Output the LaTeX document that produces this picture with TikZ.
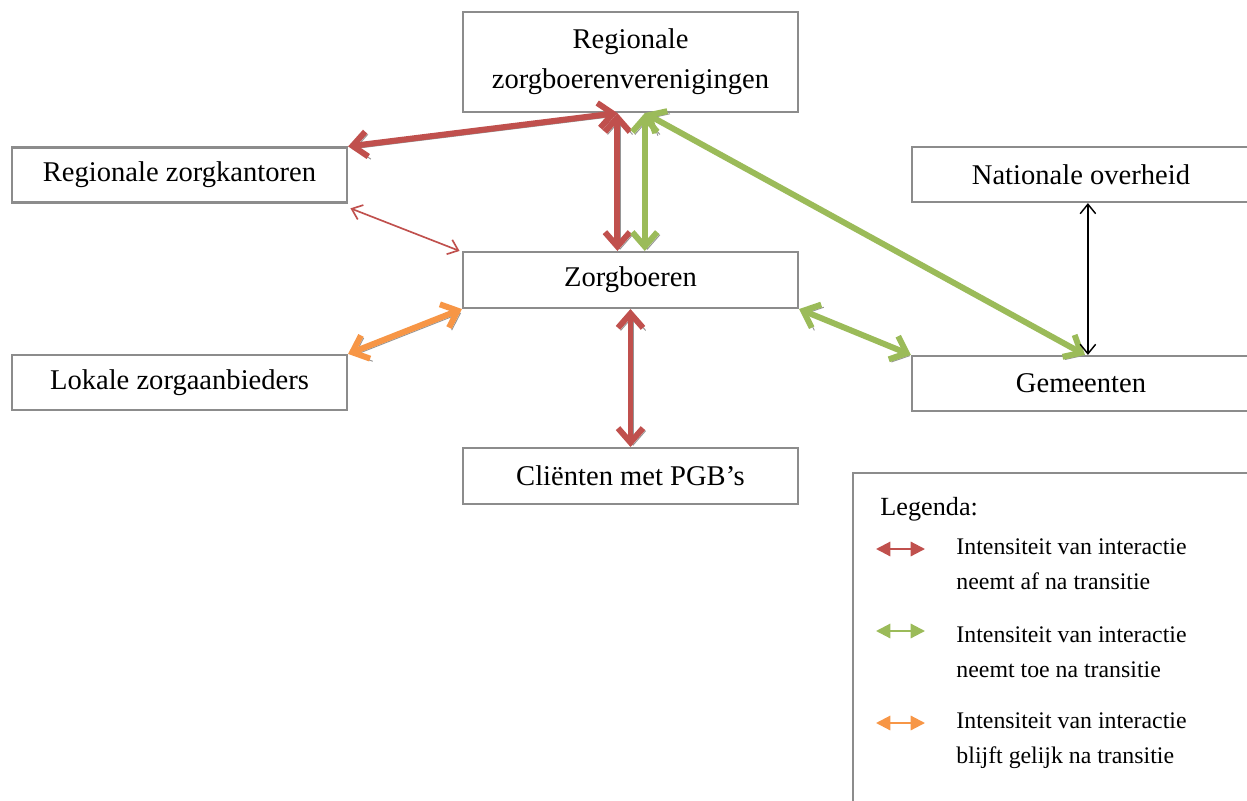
\documentclass[tikz,border=0pt]{standalone}
\usepackage{fontspec}
\setmainfont{Liberation Serif}
\usepackage{tikz}
\usetikzlibrary{arrows.meta}

\definecolor{boxgray}{HTML}{8C8C8C}
\definecolor{shadegray}{HTML}{959595}
\definecolor{afred}{HTML}{C0504D}
\definecolor{toegreen}{HTML}{9BBB59}
\definecolor{gelijkorange}{HTML}{F79646}

\begin{document}
\begin{tikzpicture}[
            x=0.42pt, y=-0.42pt,
            actor/.style={draw=boxgray, line width=0.9pt, inner sep=0pt,
                minimum width=140.7pt, minimum height=23.1pt, align=center,
                font=\fontsize{12}{16.8}\selectfont},
            link/.style={line width=2.5pt, line cap=butt,
                {Straight Barb[length=6pt,width=10.5pt]}-{Straight Barb[length=6pt,width=10.5pt]},
                preaction={draw=shadegray, transform canvas={shift={(1.1pt,-1.1pt)}}}},
            thinlink/.style={line width=0.7pt,
                {Straight Barb[length=4pt,width=6.5pt]}-{Straight Barb[length=4pt,width=6.5pt]}},
            keyarrow/.style={line width=0.9pt,
                {Triangle[length=6pt,width=6pt]}-{Triangle[length=6pt,width=6pt]}},
            keytext/.style={anchor=base west, align=left, inner sep=0pt,
                font=\fontsize{10}{14.3}\selectfont},
        ]
            \useasboundingbox (0,0) rectangle (1247,801);
            \clip (0,0) rectangle (1247,801);

            % actors
            \node[actor, minimum height=42pt] (rzv) at (630.5,62) {Regionale\\zorgboerenverenigingen};
            \node[actor] (rzk) at (179.5,175) {Regionale zorgkantoren};
            \node[actor, minimum width=142pt] (no) at (1081,174.5) {Nationale overheid};
            \node[actor, minimum height=23.5pt] (zb) at (630.5,280) {Zorgboeren};
            \node[actor] (lza) at (179.5,382.5) {Lokale zorgaanbieders};
            \node[actor, minimum width=142pt] (gem) at (1081,383.5) {Gemeenten};
            \node[actor, minimum height=23.5pt] (cl) at (630.5,476) {Cliënten met PGB’s};

            % interactions
            \draw[link, afred] (rzk.north east) -- ([xshift=-5.5pt]rzv.south);
            \draw[link, afred] ([xshift=-5.5pt]rzv.south) -- ([xshift=-5.5pt]zb.north);
            \draw[link, toegreen] ([xshift=6pt]rzv.south) -- ([xshift=6pt]zb.north);
            \draw[link, toegreen] ([xshift=6pt]rzv.south) -- ([xshift=1.7pt]gem.north);
            \draw[thinlink, afred] ([shift={(1pt,-2pt)}]rzk.south east) -- ([xshift=-1pt]zb.north west);
            \draw[link, gelijkorange] (lza.north east) -- (zb.south west);
            \draw[link, toegreen] (zb.south east) -- (gem.north west);
            \draw[link, afred] (zb.south) -- (cl.north);
            \draw[thinlink, line width=0.6pt, black] ([xshift=2.9pt]no.south) -- ([xshift=2.9pt]gem.north);

            % legend
            \draw[boxgray, line width=0.9pt] (853,473) rectangle (1280,830);
            \node[keytext, font=\fontsize{11}{14}\selectfont] (legenda) at (880,515) {Legenda:};

            \coordinate (k1a) at (876,549);
            \coordinate (k1b) at (925,549);
            \draw[keyarrow, afred] (k1a) -- (k1b);
            \node[keytext] (k1) at (956,589) {Intensiteit van interactie\\neemt af na transitie};

            \coordinate (k2a) at (876,631);
            \coordinate (k2b) at (925,631);
            \draw[keyarrow, toegreen] (k2a) -- (k2b);
            \node[keytext] (k2) at (956,677) {Intensiteit van interactie\\neemt toe na transitie};

            \coordinate (k3a) at (876,723);
            \coordinate (k3b) at (925,723);
            \draw[keyarrow, gelijkorange] (k3a) -- (k3b);
            \node[keytext] (k3) at (956,763) {Intensiteit van interactie\\blijft gelijk na transitie};
        \end{tikzpicture}
\end{document}
